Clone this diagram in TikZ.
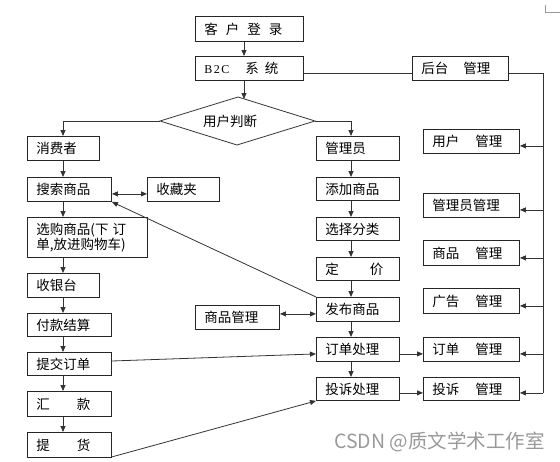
\documentclass[tikz,border=0pt]{standalone}
\usepackage{fontspec}
\setmainfont{Noto Sans CJK SC}
\newfontfamily\lserif{Liberation Serif}
\usetikzlibrary{arrows.meta,calc}
\tikzset{
  box/.style={draw=black!85, line width=0.9pt, anchor=north west, inner xsep=9pt, inner ysep=0pt,
    align=left, font=\fontsize{13.5}{15.5}\selectfont},
  conn/.style={draw=black!80, line width=0.8pt},
  arr/.style={conn, -{Triangle[length=6pt,width=5pt]}},
  darr/.style={conn, {Triangle[length=6pt,width=5pt]}-{Triangle[length=6pt,width=5pt]}},
}
\newcommand\bx[6]{\pgfmathsetmacro\bxw{#4-#2-18}\pgfmathsetmacro\bxh{#5-#3}%
  \node[box, text width=\bxw pt, minimum height=\bxh pt] (#1) at (#2,#3) {#6};}
\begin{document}
\begin{tikzpicture}[x=1pt,y=-1pt]
\useasboundingbox (0,0) rectangle (560,461);
% corner mark
\draw[black!40, line width=0.8pt] (545,5) -- (545,12) -- (560,12);
% top
\bx{login}{195}{16}{303}{41}{客\hspace{8pt}户\hspace{8pt}登\hspace{8pt}录}
\bx{b2c}{195}{56}{303}{80}{{\lserif\fontsize{12}{14}\selectfont B\hspace{1.5pt}2\hspace{1.5pt}C}\hspace{16pt}系\hspace{6pt}统}
\bx{backend}{412}{56}{508}{80}{后台\hspace{15pt}管理}
% diamond
\draw[conn] (238,97) coordinate (dt) -- (315,121) coordinate (dr) -- (237,145) coordinate (db)
  -- (160,121) coordinate (dl) -- cycle;
\node[font=\fontsize{13.5}{15}\selectfont, inner sep=0pt] (dtext) at (230,121) {用户判断};
% left column
\bx{consumer}{27}{136}{99}{160}{消费者}
\bx{search}{27}{177}{111}{201}{搜索商品}
\bx{fav}{147}{177}{219}{201}{收藏夹}
\bx{select}{27}{217}{147}{257}{选购商品(下\hspace{4pt}订\\单,放进购物车)}
\bx{cashier}{27}{273}{99}{297}{收银台}
\bx{pay}{27}{313}{111}{336}{付款结算}
\bx{submit}{27}{352}{111}{375}{提交订单}
\bx{remit}{27}{391}{111}{416}{汇\hspace{27pt}款}
\bx{pickup}{27}{432}{111}{457}{提\hspace{27pt}货}
% middle column
\bx{admin}{316}{136}{399}{160}{管理员}
\bx{add}{316}{177}{399}{200}{添加商品}
\bx{classify}{316}{217}{399}{240}{选择分类}
\bx{price}{316}{257}{399}{280}{定\hspace{31pt}价}
\bx{publish}{316}{297}{399}{321}{发布商品}
\bx{order}{316}{337}{399}{361}{订单处理}
\bx{complaint}{316}{377}{399}{400}{投诉处理}
\bx{goodsl}{195}{305}{279}{329}{商品管理}
% right column
\bx{userm}{423}{129}{519}{153}{用户\hspace{16pt}管理}
\bx{adminm}{423}{193}{519}{217}{管理员管理}
\bx{goodsm}{423}{240}{519}{265}{商品\hspace{16pt}管理}
\bx{adm}{423}{288}{519}{313}{广告\hspace{16pt}管理}
\bx{orderm}{423}{337}{519}{361}{订单\hspace{16pt}管理}
\bx{complm}{423}{377}{519}{400}{投诉\hspace{16pt}管理}
% helper coordinates
\coordinate (lx) at (63,0);
\coordinate (rx) at (351,0);
\coordinate (vx) at (543,0);
\coordinate (dhit) at (244,99);
% top connectors
\draw[arr] (dhit |- login.south) -- (dhit |- b2c.north);
\draw[arr] (dhit |- b2c.south) -- (dhit);
\draw[conn] ($(b2c.south east)+(0,-8)$) -- ($(backend.south west)+(0,-8)$);
\draw[conn] ($(backend.south east)+(0,-8)$) -| ($(vx |- complm.south)+(0,-8)$);
\draw[arr] (dl) -| (lx |- consumer.north);
\draw[arr] (dr) -| (rx |- admin.north);
% left column arrows
\draw[arr] (lx |- consumer.south) -- (lx |- search.north);
\draw[arr] (lx |- search.south) -- (lx |- select.north);
\draw[arr] (lx |- select.south) -- (lx |- cashier.north);
\draw[arr] (lx |- cashier.south) -- (lx |- pay.north);
\draw[arr] (lx |- pay.south) -- (lx |- submit.north);
\draw[arr] (lx |- submit.south) -- (lx |- remit.north);
\draw[arr] (lx |- remit.south) -- (lx |- pickup.north);
\draw[darr] ($(search.south east)+(0,-8)$) -- ($(fav.south west)+(0,-8)$);
% middle column arrows
\draw[arr] (rx |- admin.south) -- (rx |- add.north);
\draw[arr] (rx |- add.south) -- (rx |- classify.north);
\draw[arr] (rx |- classify.south) -- (rx |- price.north);
\draw[arr] (rx |- price.south) -- (rx |- publish.north);
\draw[arr] (rx |- publish.south) -- (rx |- order.north);
\draw[arr] (rx |- order.south) -- (rx |- complaint.north);
\draw[darr] ($(goodsl.south east)+(0,-16)$) -- ($(publish.south west)+(0,-8)$);
\draw[arr] (publish.north west) -- (search.south east);
\draw[arr] ($(submit.north east)+(0,9)$) -- ($(order.south west)+(0,-8)$);
\draw[arr] ($(pickup.south east)+(0,-1)$) -- (complaint.south west);
\draw[arr] ($(order.south east)+(0,-8)$) -- ($(orderm.south west)+(0,-8)$);
\draw[arr] ($(complaint.south east)+(0,-8)$) -- ($(complm.south west)+(0,-8)$);
% right column arrows
\foreach \b in {userm,adminm,goodsm,adm,orderm,complm}
  \draw[arr] ($(vx |- \b.south)+(0,-8)$) -- ($(\b.south east)+(0,-8)$);
% watermark
\node[anchor=west, text=black!40, font=\fontsize{19.5}{22}\selectfont, inner sep=0pt] (wm) at (334,442) {CSDN @质文学术工作室};
\end{tikzpicture}
\end{document}
